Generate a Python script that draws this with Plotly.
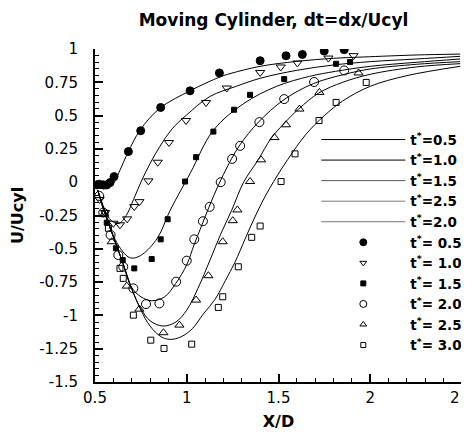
import plotly.graph_objects as go

# ---------------- data ----------------
# simulation curves
c05_x = [0.515, 0.55, 0.58, 0.61, 0.636, 0.682, 0.745, 0.854, 1.018, 1.181, 1.236, 1.4, 1.6, 1.8, 1.963, 2.25, 2.49]
c05_y = [-0.04, -0.05, -0.04, 0.01, 0.09, 0.23, 0.39, 0.556, 0.686, 0.79, 0.815, 0.87, 0.907, 0.93, 0.94, 0.955, 0.962]

c10_x = [0.515, 0.55, 0.59, 0.63, 0.67, 0.71, 0.75, 0.80, 0.854, 0.92, 1.0, 1.127, 1.27, 1.4, 1.6, 1.8, 2.0, 2.25, 2.49]
c10_y = [-0.06, -0.20, -0.29, -0.31, -0.25, -0.13, 0.0, 0.14, 0.27, 0.40, 0.506, 0.644, 0.72, 0.78, 0.84, 0.88, 0.905, 0.925, 0.945]

c15_x = [0.515, 0.56, 0.60, 0.64, 0.68, 0.71, 0.76, 0.84, 0.91, 1.02, 1.145, 1.31, 1.49, 1.67, 1.81, 2.0, 2.25, 2.49]
c15_y = [-0.06, -0.24, -0.40, -0.50, -0.56, -0.57, -0.54, -0.42, -0.21, 0.07, 0.39, 0.59, 0.72, 0.795, 0.832, 0.87, 0.90, 0.925]

c20_x = [0.515, 0.55, 0.60, 0.65, 0.70, 0.75, 0.81, 0.88, 0.94, 1.0, 1.04, 1.08, 1.12, 1.17, 1.23, 1.29, 1.39, 1.53, 1.69, 1.86, 2.0, 2.25, 2.49]
c20_y = [-0.06, -0.22, -0.41, -0.60, -0.79, -0.86, -0.89, -0.86, -0.76, -0.62, -0.47, -0.33, -0.19, -0.03, 0.14, 0.28, 0.45, 0.62, 0.74, 0.81, 0.85, 0.885, 0.905]

c25_x = [0.515, 0.55, 0.60, 0.65, 0.70, 0.75, 0.80, 0.87, 0.94, 1.0, 1.06, 1.127, 1.185, 1.245, 1.31, 1.39, 1.46, 1.53, 1.61, 1.72, 1.85, 2.0, 2.25, 2.49]
c25_y = [-0.06, -0.22, -0.41, -0.60, -0.80, -0.95, -1.04, -1.08, -1.05, -0.96, -0.80, -0.584, -0.39, -0.21, 0.0, 0.17, 0.33, 0.44, 0.55, 0.67, 0.75, 0.81, 0.865, 0.89]

c30_x = [0.515, 0.55, 0.60, 0.65, 0.70, 0.75, 0.80, 0.86, 0.91, 0.97, 1.03, 1.09, 1.154, 1.21, 1.263, 1.32, 1.382, 1.45, 1.55, 1.65, 1.75, 1.85, 2.0, 2.2, 2.49]
c30_y = [-0.06, -0.22, -0.41, -0.60, -0.80, -0.96, -1.08, -1.16, -1.18, -1.16, -1.10, -0.99, -0.88, -0.74, -0.60, -0.42, -0.23, -0.05, 0.17, 0.36, 0.50, 0.61, 0.72, 0.80, 0.87]

# measured points
p05_x = [0.51, 0.523, 0.545, 0.564, 0.582, 0.604, 0.682, 0.749, 0.858, 1.018, 1.178, 1.40, 1.541, 1.63, 1.749, 1.858]
p05_y = [-0.02, -0.015, -0.02, -0.02, -0.003, 0.042, 0.23, 0.386, 0.561, 0.686, 0.82, 0.912, 0.949, 0.959, 0.985, 0.995]

p10_x = [0.525, 0.555, 0.60, 0.636, 0.675, 0.714, 0.742, 0.791, 0.842, 0.903, 0.996, 1.105, 1.218, 1.40, 1.512, 1.603, 1.772, 1.909]
p10_y = [-0.13, -0.228, -0.308, -0.32, -0.275, -0.183, -0.146, 0.01, 0.15, 0.298, 0.463, 0.598, 0.707, 0.824, 0.865, 0.895, 0.932, 0.95]

p15_x = [0.564, 0.614, 0.651, 0.714, 0.809, 0.858, 0.896, 0.991, 1.051, 1.145, 1.258, 1.345, 1.531, 1.814, 1.890]
p15_y = [-0.304, -0.496, -0.584, -0.647, -0.577, -0.429, -0.278, 0.005, 0.188, 0.38, 0.544, 0.656, 0.774, 0.889, 0.902]

p20_x = [0.523, 0.545, 0.585, 0.627, 0.654, 0.709, 0.778, 0.851, 0.942, 1.0, 1.041, 1.088, 1.125, 1.185, 1.247, 1.291, 1.396, 1.531, 1.694, 1.858]
p20_y = [-0.103, -0.228, -0.396, -0.547, -0.635, -0.797, -0.915, -0.91, -0.747, -0.589, -0.429, -0.293, -0.185, 0.0, 0.175, 0.273, 0.451, 0.624, 0.752, 0.839]

p25_x = [0.55, 0.591, 0.673, 0.742, 0.873, 0.96, 1.051, 1.118, 1.196, 1.251, 1.276, 1.345, 1.405, 1.478, 1.541, 1.614, 1.723, 1.936]
p25_y = [-0.24, -0.447, -0.78, -0.953, -1.13, -1.073, -0.885, -0.702, -0.447, -0.289, -0.208, 0.005, 0.168, 0.335, 0.431, 0.549, 0.674, 0.82]

p30_x = [0.555, 0.573, 0.636, 0.654, 0.709, 0.804, 0.876, 1.027, 1.172, 1.196, 1.281, 1.354, 1.40, 1.514, 1.59, 1.721, 1.814, 1.978]
p30_y = [-0.233, -0.346, -0.647, -0.722, -0.998, -1.186, -1.248, -1.216, -0.94, -0.86, -0.635, -0.414, -0.329, 0.005, 0.213, 0.463, 0.599, 0.749]

x_tickvals = [0.5, 1, 1.5, 2, 2.5]
x_ticktext = ["0.5", "1", "1.5", "2", "2.5"]
y_tickvals = [1, 0.75, 0.5, 0.25, 0, -0.25, -0.5, -0.75, -1, -1.25, -1.5]
y_ticktext = ["1", "0.75", "0.5", "0.25", "0", "-0.25", "-0.5", "-0.75", "-1", "-1.25", "-1.5"]

line_labels = ["t<sup>*</sup>=0.5", "t<sup>*</sup>=1.0", "t<sup>*</sup>=1.5", "t<sup>*</sup>=2.5", "t<sup>*</sup>=2.0"]
point_labels = ["t<sup>*</sup>= 0.5", "t<sup>*</sup>= 1.0", "t<sup>*</sup>= 1.5",
                "t<sup>*</sup>= 2.0", "t<sup>*</sup>= 2.5", "t<sup>*</sup>= 3.0"]

# ---------------- figure ----------------
fig = go.Figure()
FONT = "DejaVu Sans, Verdana, sans-serif"

curves = [(c05_x, c05_y), (c10_x, c10_y), (c15_x, c15_y), (c20_x, c20_y), (c25_x, c25_y), (c30_x, c30_y)]
for cx, cy in curves:
    fig.add_trace(go.Scatter(x=cx, y=cy, mode="lines", line=dict(color="black", width=1, shape="spline", smoothing=1.0),
                             showlegend=False, hoverinfo="skip"))

points = [
    (p05_x, p05_y, "circle", 8),
    (p10_x, p10_y, "triangle-down-open", 8),
    (p15_x, p15_y, "square", 5),
    (p20_x, p20_y, "circle-open", 9),
    (p25_x, p25_y, "triangle-up-open", 8),
    (p30_x, p30_y, "square-open", 6),
]
for px, py, sym, sz in points:
    fig.add_trace(go.Scatter(x=px, y=py, mode="markers",
                             marker=dict(symbol=sym, size=sz, color="black", line=dict(color="black", width=1)),
                             showlegend=False))

# legend entries
line_colors = ["black", "black", "#555555", "#777777", "#777777"]
for lab, col in zip(line_labels, line_colors):
    fig.add_trace(go.Scatter(x=[None], y=[None], mode="lines", name=lab, line=dict(color=col, width=1)))
leg_syms = [("circle", 7), ("triangle-down-open", 6), ("square", 5), ("circle-open", 7), ("triangle-up-open", 6), ("square-open", 5)]
for lab, (sym, sz) in zip(point_labels, leg_syms):
    fig.add_trace(go.Scatter(x=[None], y=[None], mode="markers", name=lab,
                             marker=dict(symbol=sym, size=sz, color="black", line=dict(color="black", width=1))))

# the page body has an 8px margin, so the figure is sized to fill the rest of the window
legfont = dict(family=FONT, size=13.5, color="black", weight="bold")
fig.update_layout(
    template="none",
    width=461, height=427,
    margin=dict(l=87, r=7, t=41, b=53, autoexpand=False),
    paper_bgcolor="white", plot_bgcolor="white",
    font=dict(family=FONT, size=15, color="black"),
    title=dict(text="<b>Moving Cylinder, dt=dx/Ucyl</b>", xref="container", x=0.576, xanchor="center",
               yref="container", y=1 - 12 / 427, yanchor="middle",
               font=dict(family=FONT, size=17, color="black")),
    legend=dict(x=0.603, y=0.774, xanchor="left", yanchor="top", bgcolor="rgba(0,0,0,0)",
                font=legfont, itemwidth=84, tracegroupgap=0),
    showlegend=True,
)
fig.update_xaxes(range=[0.5, 2.5], tickvals=x_tickvals, ticktext=x_ticktext, automargin=False,
                 showgrid=False, zeroline=False, showline=True, linecolor="black", linewidth=2,
                 ticks="inside", ticklen=8, tickwidth=1.5, tickcolor="black", ticklabeloverflow="allow",
                 ticklabelstandoff=1,
                 minor=dict(dtick=0.1, tick0=0.5, ticks="inside", ticklen=4, tickwidth=1, tickcolor="black", showgrid=False),
                 title=dict(text="<b>X/D</b>", font=dict(family=FONT, size=16), standoff=10),
                 tickfont=dict(family=FONT, size=15))
fig.update_yaxes(range=[-1.5, 1], tickvals=y_tickvals, ticktext=y_ticktext, automargin=False,
                 showgrid=False, zeroline=False, showline=True, linecolor="black", linewidth=2,
                 ticks="inside", ticklen=8, tickwidth=1.5, tickcolor="black", ticklabeloverflow="allow",
                 ticklabelstandoff=12,
                 minor=dict(dtick=0.05, tick0=0, ticks="inside", ticklen=4, tickwidth=1, tickcolor="black", showgrid=False),
                 title=dict(text="<b>U/Ucyl</b>", font=dict(family=FONT, size=16), standoff=24),
                 tickfont=dict(family=FONT, size=15))

fig.write_html("out.html")
